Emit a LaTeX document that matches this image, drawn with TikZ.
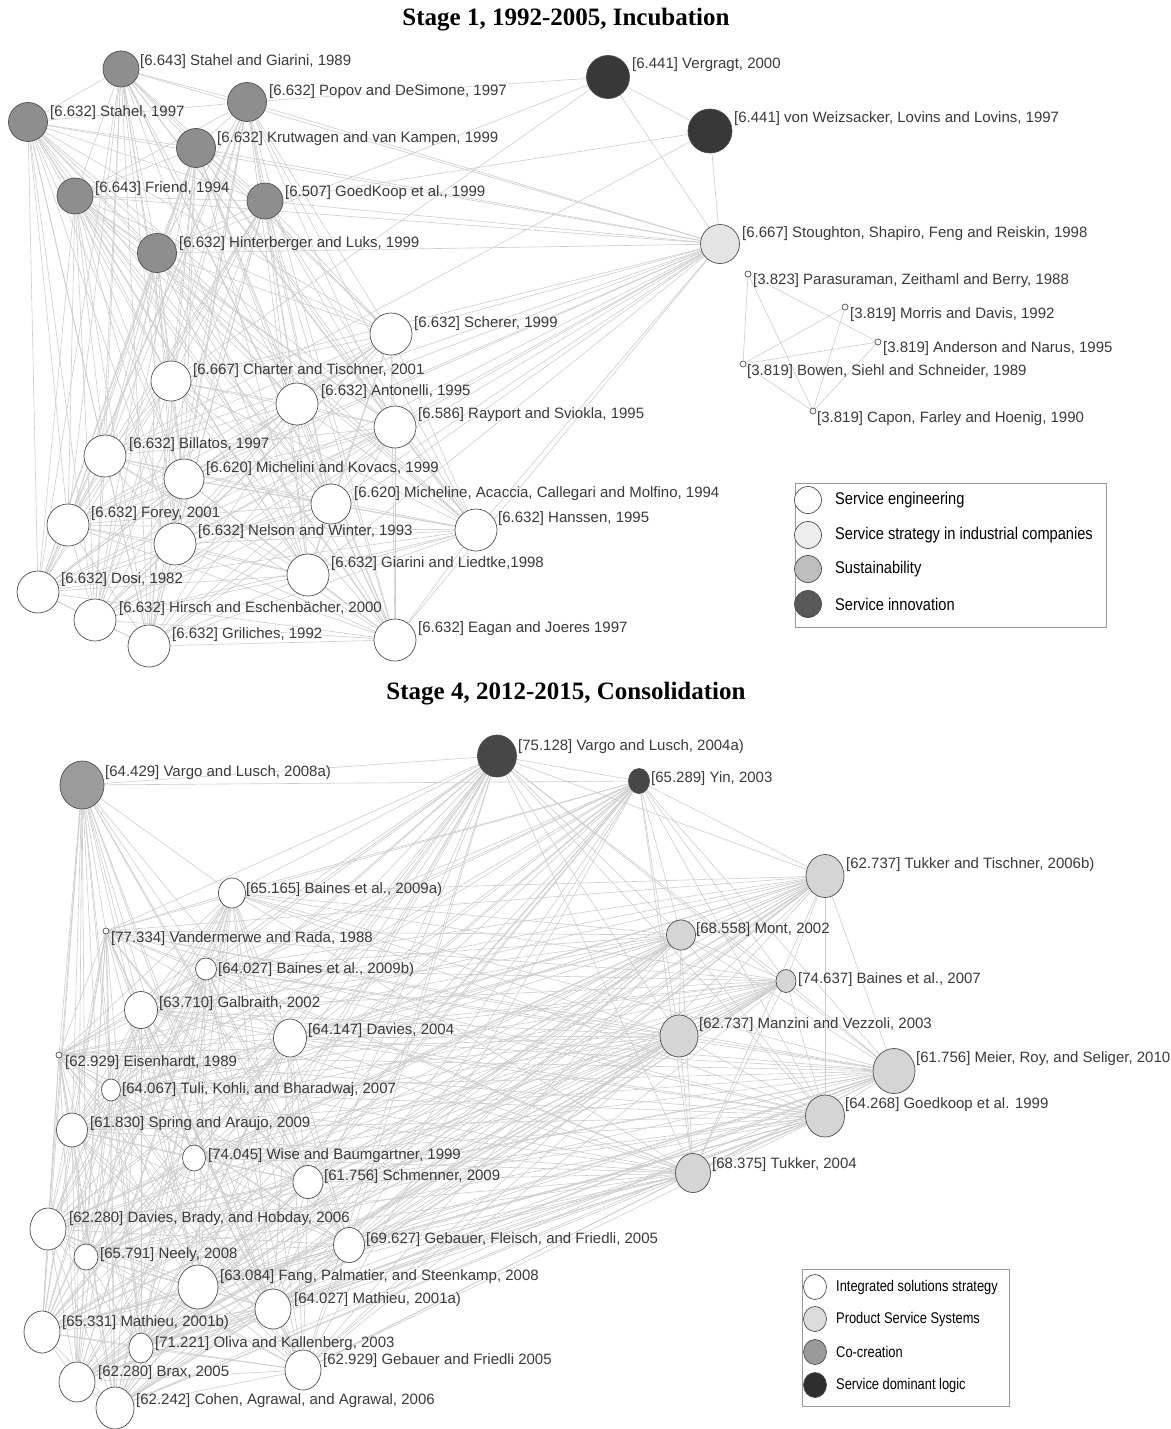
\documentclass[tikz,border=0pt]{standalone}
\usepackage{fontspec}
\setmainfont{Liberation Sans}
\newfontfamily\lblfont{Liberation Sans}
\newfontfamily\legfont[FakeStretch=0.86]{Liberation Sans}
\newfontfamily\legfontb[FakeStretch=0.83]{Liberation Sans}
\newfontfamily\ttlfont{Liberation Serif}
\usetikzlibrary{shapes.geometric,backgrounds}
\definecolor{edgec}{HTML}{CDCDCD}
\definecolor{outc}{HTML}{4D4D4D}
\definecolor{lblc}{HTML}{3A3A3A}
\definecolor{gA}{HTML}{8E8E8E}
\definecolor{dkA}{HTML}{383838}
\definecolor{stA}{HTML}{E4E4E4}
\definecolor{coB}{HTML}{9B9B9B}
\definecolor{sdB}{HTML}{474747}
\definecolor{psB}{HTML}{D5D5D5}
\definecolor{lgA}{HTML}{EDEDED}
\definecolor{lgB}{HTML}{BDBDBD}
\definecolor{lgC}{HTML}{595959}
\definecolor{lgD}{HTML}{DBDBDB}
\definecolor{lgE}{HTML}{9A9A9A}
\definecolor{lgF}{HTML}{2E2E2E}
\definecolor{boxc}{HTML}{9A9A9A}
\tikzset{
  nd/.style={ellipse, draw=outc, line width=0.7pt, inner sep=0pt},
  lbl/.style={anchor=base west, inner sep=0pt, text=lblc, font=\lblfont\fontsize{15}{18}\selectfont},
  legtxt/.style={anchor=west, inner sep=0pt, text=black, font=\legfont\fontsize{17}{20}\selectfont},
  legtxtb/.style={anchor=west, inner sep=0pt, text=black, font=\legfontb\fontsize{15.5}{18}\selectfont},
  ttl/.style={inner sep=0pt, font=\ttlfont\bfseries\fontsize{25}{30}\selectfont},
  edge/.style={draw=edgec, line width=0.6pt},
  legbox/.style={draw=boxc, line width=1pt, fill=none}
}
% name, x, y, rx, ry, fill, label x, label y, text
\newcommand\gnode[9]{%
  \node[nd, fill=#6, minimum width={2*#4}, minimum height={2*#5}] (#1) at (#2,#3) {};
  \node[lbl] (#1l) at (#7,{#8+5.3}) {#9};}
\begin{document}
\begin{tikzpicture}[x=1pt,y=-1pt]
\useasboundingbox (0,0) rectangle (1170,1429);

% ---------------- Stage 1 ----------------
\node[ttl] (t1) at (566,20) {Stage 1, 1992-2005, Incubation};

\gnode{sg}{121}{69}{18}{18}{gA}{140}{60}{[6.643] Stahel and Giarini, 1989}
\gnode{pd}{247}{102}{19.5}{19.5}{gA}{269}{90}{[6.632] Popov and DeSimone, 1997}
\gnode{st}{28}{122}{19.5}{19.5}{gA}{50}{111}{[6.632] Stahel, 1997}
\gnode{kr}{196}{148}{19.5}{19.5}{gA}{217}{137}{[6.632] Krutwagen and van Kampen, 1999}
\gnode{fr}{75}{196}{18}{18}{gA}{95}{187}{[6.643] Friend, 1994}
\gnode{gk}{265}{201}{18}{18}{gA}{285}{191}{[6.507] GoedKoop et al., 1999}
\gnode{hl}{157}{253}{19.5}{19.5}{gA}{179}{242}{[6.632] Hinterberger and Luks, 1999}
\gnode{ve}{608}{77}{21.5}{21.5}{dkA}{632}{63}{[6.441] Vergragt, 2000}
\gnode{vw}{710}{131}{22}{22}{dkA}{734}{117}{[6.441] von Weizsacker, Lovins and Lovins, 1997}
\gnode{sto}{720}{244}{19.5}{19.5}{stA}{742}{232}{[6.667] Stoughton, Shapiro, Feng and Reiskin, 1998}
\gnode{par}{748}{274}{3}{3}{white}{753}{279}{[3.823] Parasuraman, Zeithaml and Berry, 1988}
\gnode{mor}{845}{307}{3}{3}{white}{850}{313}{[3.819] Morris and Davis, 1992}
\gnode{anr}{878}{342}{3}{3}{white}{883}{347}{[3.819] Anderson and Narus, 1995}
\gnode{bow}{743}{364}{3}{3}{white}{747}{370}{[3.819] Bowen, Siehl and Schneider, 1989}
\gnode{cap}{813}{411}{3}{3}{white}{817}{417}{[3.819] Capon, Farley and Hoenig, 1990}
\gnode{sc}{391}{334}{21}{21}{white}{414}{322}{[6.632] Scherer, 1999}
\gnode{ct}{171}{381}{20}{20}{white}{193}{369}{[6.667] Charter and Tischner, 2001}
\gnode{an}{297}{404}{21}{21}{white}{321}{390}{[6.632] Antonelli, 1995}
\gnode{rs}{395}{427}{21}{21}{white}{418}{413}{[6.586] Rayport and Sviokla, 1995}
\gnode{bi}{105}{456}{21}{21}{white}{129}{443}{[6.632] Billatos, 1997}
\gnode{mk}{184}{479}{20}{20}{white}{206}{467}{[6.620] Michelini and Kovacs, 1999}
\gnode{mac}{331}{504}{20}{20}{white}{354}{492}{[6.620] Micheline, Acaccia, Callegari and Molfino, 1994}
\gnode{ha}{476}{530}{21}{21}{white}{498}{517}{[6.632] Hanssen, 1995}
\gnode{fo}{68}{525}{21}{21}{white}{91}{512}{[6.632] Forey, 2001}
\gnode{nw}{175}{544}{21}{21}{white}{198}{530}{[6.632] Nelson and Winter, 1993}
\gnode{gl}{308}{575}{21}{21}{white}{331}{562}{[6.632] Giarini and Liedtke,1998}
\gnode{do}{38}{592}{21}{21}{white}{61}{578}{[6.632] Dosi, 1982}
\gnode{hi}{95}{620}{21}{21}{white}{119}{607}{[6.632] Hirsch and Eschenbächer, 2000}
\gnode{gr}{149}{646}{21}{21}{white}{172}{633}{[6.632] Griliches, 1992}
\gnode{ej}{395}{640}{21}{21}{white}{418}{627}{[6.632] Eagan and Joeres 1997}

% legend 1
\node[legbox, rectangle, minimum width=311, minimum height=144, anchor=north west] (leg1) at (795,483) {};
\node[nd, fill=white, minimum width=27, minimum height=27] (l1a) at (808,500) {};
\node[nd, fill=lgA, minimum width=27, minimum height=27] (l1b) at (808,535) {};
\node[nd, fill=lgB, minimum width=27, minimum height=27] (l1c) at (808,569) {};
\node[nd, fill=lgC, minimum width=27, minimum height=27] (l1d) at (808,604) {};
\node[legtxt] (l1at) at (835,500) {Service engineering};
\node[legtxt] (l1bt) at (835,535) {Service strategy in industrial companies};
\node[legtxt] (l1ct) at (835,569) {Sustainability};
\node[legtxt] (l1dt) at (835,604) {Service innovation};

% ---------------- Stage 4 ----------------
\node[ttl] (t2) at (566,694) {Stage 4, 2012-2015, Consolidation};

\gnode{v08}{82}{785}{22}{24}{coB}{105}{771}{[64.429] Vargo and Lusch, 2008a)}
\gnode{v04}{497}{756}{19.5}{21}{sdB}{518}{745}{[75.128] Vargo and Lusch, 2004a)}
\gnode{yin}{639}{781}{10.5}{12.5}{sdB}{651}{777}{[65.289] Yin, 2003}
\gnode{tt}{825}{876}{19}{21.5}{psB}{846}{863}{[62.737] Tukker and Tischner, 2006b)}
\gnode{mo}{681}{935}{14.5}{15}{psB}{696}{928}{[68.558] Mont, 2002}
\gnode{b07}{786}{981}{10}{11.5}{psB}{798}{978}{[74.637] Baines et al., 2007}
\gnode{mv}{679}{1036}{19}{21}{psB}{699}{1023}{[62.737] Manzini and Vezzoli, 2003}
\gnode{me}{894}{1071}{21}{22.5}{psB}{916}{1057}{[61.756] Meier, Roy, and Seliger, 2010}
\gnode{gkb}{825}{1116}{19.5}{21}{psB}{845}{1103}{[64.268] Goedkoop et al. 1999}
\gnode{tu}{693}{1173}{17.5}{19.5}{psB}{712}{1163}{[68.375] Tukker, 2004}
\gnode{bxa}{232}{893}{13.5}{15}{white}{246}{888}{[65.165] Baines et al., 2009a)}
\gnode{vr}{106}{931}{3}{3}{white}{111}{937}{[77.334] Vandermerwe and Rada, 1988}
\gnode{bxb}{206}{969}{10.5}{11}{white}{218}{968}{[64.027] Baines et al., 2009b)}
\gnode{ga}{141}{1010}{16.5}{18.5}{white}{159}{1002}{[63.710] Galbraith, 2002}
\gnode{da}{290}{1038}{16.5}{19}{white}{308}{1029}{[64.147] Davies, 2004}
\gnode{ei}{59}{1055}{3}{3}{white}{65}{1061}{[62.929] Eisenhardt, 1989}
\gnode{tk}{111}{1090}{9.5}{11}{white}{122}{1088}{[64.067] Tuli, Kohli, and Bharadwaj, 2007}
\gnode{sa}{72}{1130}{15.5}{17}{white}{90}{1122}{[61.830] Spring and Araujo, 2009}
\gnode{wb}{194}{1158}{11.5}{13}{white}{208}{1154}{[74.045] Wise and Baumgartner, 1999}
\gnode{sm}{308}{1182}{15}{16.5}{white}{324}{1175}{[61.756] Schmenner, 2009}
\gnode{dbh}{48}{1229}{18}{21}{white}{69}{1217}{[62.280] Davies, Brady, and Hobday, 2006}
\gnode{gf}{349}{1245}{15.5}{17.5}{white}{366}{1238}{[69.627] Gebauer, Fleisch, and Friedli, 2005}
\gnode{ne}{86}{1257}{12}{13}{white}{100}{1253}{[65.791] Neely, 2008}
\gnode{fa}{198}{1287}{20}{22}{white}{220}{1275}{[63.084] Fang, Palmatier, and Steenkamp, 2008}
\gnode{mxa}{273}{1309}{18}{20}{white}{294}{1298}{[64.027] Mathieu, 2001a)}
\gnode{mxb}{42}{1332}{18}{21}{white}{62}{1321}{[65.331] Mathieu, 2001b)}
\gnode{ok}{141}{1348}{12}{15}{white}{155}{1342}{[71.221] Oliva and Kallenberg, 2003}
\gnode{gfb}{303}{1370}{18}{20}{white}{323}{1359}{[62.929] Gebauer and Friedli 2005}
\gnode{br}{77}{1382}{18}{20}{white}{98}{1371}{[62.280] Brax, 2005}
\gnode{co}{115}{1408}{19}{21}{white}{136}{1399}{[62.242] Cohen, Agrawal, and Agrawal, 2006}

% legend 2
\node[legbox, rectangle, minimum width=207, minimum height=137, anchor=north west] (leg2) at (802,1269) {};
\node[nd, fill=white, minimum width=23, minimum height=25] (l2a) at (815,1287) {};
\node[nd, fill=lgD, minimum width=23, minimum height=25] (l2b) at (815,1319) {};
\node[nd, fill=lgE, minimum width=23, minimum height=25] (l2c) at (815,1352) {};
\node[nd, fill=lgF, minimum width=23, minimum height=25] (l2d) at (815,1385) {};
\node[legtxtb] (l2at) at (836,1287) {Integrated solutions strategy};
\node[legtxtb] (l2bt) at (836,1319) {Product Service Systems};
\node[legtxtb] (l2ct) at (836,1352) {Co-creation};
\node[legtxtb] (l2dt) at (836,1385) {Service dominant logic};

% ---------------- edges ----------------
\def\SoneList{sg,pd,st,kr,fr,gk,hl,sto,sc,ct,an,rs,bi,mk,mac,ha,fo,nw,gl,do,hi,gr,ej}
\def\SfourList{v04,yin,tt,mo,b07,mv,me,gkb,tu,bxa,vr,bxb,ga,da,ei,tk,sa,wb,sm,dbh,gf,ne,fa,mxa,mxb,ok,gfb,br,co}
\begin{pgfonlayer}{background}
\fill[white] (0,0) rectangle (1170,1429);
\foreach \a [count=\i] in \SoneList {
  \foreach \b [count=\j] in \SoneList {
    \ifnum\j>\i \draw[edge] (\a) -- (\b); \fi
  }
}
\foreach \a/\b in {ve/sto,vw/sto,ve/vw,ve/ct,ve/hl,ve/pd,vw/gk,vw/bi,
  par/anr,par/bow,par/cap,mor/bow,mor/cap,anr/bow,anr/cap,bow/cap}
  \draw[edge] (\a) -- (\b);
\foreach \a [count=\i] in \SfourList {
  \foreach \b [count=\j] in \SfourList {
    \ifnum\j>\i \draw[edge] (\a) -- (\b); \fi
  }
}
\foreach \b in {v04,yin,bxa,vr,bxb,ga,da,ei,tk,sa,wb,sm,dbh,gf,ne,fa,mxa,mxb,ok,gfb,br,co}
  \draw[edge] (v08) -- (\b);
\end{pgfonlayer}
\end{tikzpicture}
\end{document}
